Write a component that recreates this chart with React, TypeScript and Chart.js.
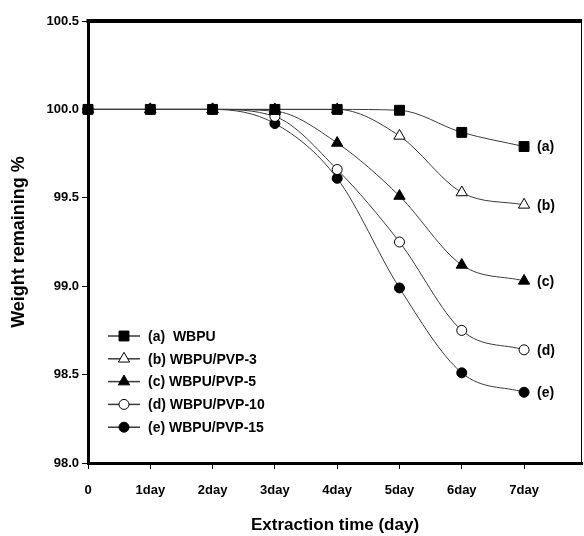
import React, { useEffect, useRef } from "react";
import { Chart, registerables } from "chart.js";
import { drawPoint } from "chart.js/helpers";

Chart.register(...registerables);

const days = [0, 1, 2, 3, 4, 5, 6, 7];
const xTickLabels = ["0", "1day", "2day", "3day", "4day", "5day", "6day", "7day"];
const yTicks = [98.0, 98.5, 99.0, 99.5, 100.0, 100.5];

const seriesNames = ["(a)  WBPU", "(b) WBPU/PVP-3", "(c) WBPU/PVP-5", "(d) WBPU/PVP-10", "(e) WBPU/PVP-15"];
const endLabels = ["(a)", "(b)", "(c)", "(d)", "(e)"];

const wbpu = [100.0, 100.0, 100.0, 100.0, 100.0, 99.995, 99.87, 99.79];
const pvp3 = [100.0, 100.0, 100.0, 100.0, 100.0, 99.85, 99.53, 99.46];
const pvp5 = [100.0, 100.0, 100.0, 99.99, 99.81, 99.51, 99.12, 99.03];
const pvp10 = [100.0, 100.0, 100.0, 99.96, 99.66, 99.25, 98.75, 98.64];
const pvp15 = [100.0, 100.0, 100.0, 99.92, 99.61, 98.99, 98.51, 98.4];

const seriesValues = [wbpu, pvp3, pvp5, pvp10, pvp15];
const pointStyles = ["rect", "triangle", "triangle", "circle", "circle"];
const pointFills = ["#000", "#fff", "#000", "#fff", "#000"];
const pointSizes = [7, 6.5, 6.5, 5, 5];

const FONT = "'Liberation Sans', Arial, sans-serif";
const LINE_COLOR = "#3a3a3a";

const framePlugin = {
  id: "frame",
  afterDatasetsDraw(chart: any) {
    const { ctx, chartArea } = chart;
    const { left, right, top, bottom } = chartArea;
    ctx.save();
    ctx.strokeStyle = "#000";
    ctx.lineWidth = 4;
    ctx.beginPath();
    ctx.moveTo(left - 1.5, top);
    ctx.lineTo(right, top);
    ctx.stroke();
    ctx.lineWidth = 1;
    ctx.beginPath();
    ctx.moveTo(right - 0.5, top);
    ctx.lineTo(right - 0.5, bottom);
    ctx.stroke();
    ctx.restore();
  },
};

const labelsPlugin = {
  id: "endLabels",
  afterDatasetsDraw(chart: any) {
    const { ctx } = chart;
    ctx.save();
    ctx.font = `bold 14px ${FONT}`;
    ctx.fillStyle = "#000";
    ctx.textBaseline = "middle";
    ctx.textAlign = "left";
    chart.data.datasets.forEach((ds: any, i: number) => {
      const meta = chart.getDatasetMeta(i);
      const pt = meta.data[meta.data.length - 1];
      if (pt) ctx.fillText(endLabels[i], pt.x + 13, pt.y + 1);
    });
    ctx.restore();
  },
};

const legendPlugin = {
  id: "customLegend",
  afterDraw(chart: any) {
    const { ctx } = chart;
    const x0 = 108;
    const x1 = 140;
    const textX = 148;
    const y0 = 336;
    const dy = 22.8;
    ctx.save();
    chart.data.datasets.forEach((ds: any, i: number) => {
      const y = y0 + i * dy;
      ctx.strokeStyle = LINE_COLOR;
      ctx.lineWidth = 1.5;
      ctx.beginPath();
      ctx.moveTo(x0, y);
      ctx.lineTo(x1, y);
      ctx.stroke();
      ctx.fillStyle = pointFills[i];
      ctx.strokeStyle = "#000";
      ctx.lineWidth = 1;
      drawPoint(ctx, { pointStyle: pointStyles[i], radius: pointSizes[i], rotation: 0, borderWidth: 1 } as any, (x0 + x1) / 2, y);
      ctx.fillStyle = "#000";
      ctx.font = `bold 14px ${FONT}`;
      ctx.textBaseline = "middle";
      ctx.textAlign = "left";
      ctx.fillText(seriesNames[i], textX, y + 1);
    });
    ctx.restore();
  },
};

export default function App() {
  const ref = useRef<HTMLCanvasElement | null>(null);

  useEffect(() => {
    if (!ref.current) return;
    const datasets = seriesValues.map((vals, i) => ({
      label: seriesNames[i],
      data: days.map((d, j) => ({ x: d, y: vals[j] })),
      borderColor: LINE_COLOR,
      borderWidth: 1,
      backgroundColor: pointFills[i],
      pointBackgroundColor: pointFills[i],
      pointBorderColor: "#000",
      pointBorderWidth: 1,
      pointStyle: pointStyles[i],
      pointRadius: pointSizes[i],
      cubicInterpolationMode: "monotone" as const,
      fill: false,
      clip: 10,
    }));

    const chart = new Chart(ref.current, {
      type: "line",
      data: { datasets },
      plugins: [framePlugin, labelsPlugin, legendPlugin],
      options: {
        animation: false,
        responsive: false,
        maintainAspectRatio: false,
        layout: { autoPadding: false, padding: { top: 21, right: 2, left: 0, bottom: 0 } },
        plugins: {
          legend: { display: false },
          tooltip: { enabled: false },
        },
        scales: {
          x: {
            type: "linear",
            min: 0,
            max: 7.93,
            afterFit: (scale: any) => {
              scale.height = 73;
              scale.paddingRight = 0;
              scale.paddingLeft = 0;
            },
            ticks: {
              stepSize: 1,
              includeBounds: false,
              autoSkip: false,
              maxRotation: 0,
              padding: 14,
              color: "#000",
              font: { family: FONT, size: 13, weight: "bold" },
              callback: (v: any) => (Number.isInteger(v) ? xTickLabels[v] : ""),
            },
            grid: {
              drawOnChartArea: false,
              drawTicks: true,
              tickLength: 6,
              color: "#000",
              lineWidth: 1,
            },
            border: { display: true, color: "#000", width: 3 },
            title: {
              display: true,
              text: "Extraction time (day)",
              color: "#000",
              font: { family: FONT, size: 17, weight: "bold" },
              padding: { top: 0, bottom: 0 },
            },
          },
          y: {
            type: "linear",
            min: yTicks[0],
            max: yTicks[yTicks.length - 1],
            afterFit: (scale: any) => {
              scale.width = 88;
              scale.paddingTop = 0;
              scale.paddingBottom = 0;
            },
            afterBuildTicks: (scale: any) => {
              scale.ticks = yTicks.map((v) => ({ value: v }));
            },
            ticks: {
              padding: 3,
              color: "#000",
              font: { family: FONT, size: 13, weight: "bold" },
              callback: (v: any) => Number(v).toFixed(1),
            },
            grid: {
              drawOnChartArea: false,
              drawTicks: true,
              tickLength: 6,
              color: "#000",
              lineWidth: 1,
            },
            border: { display: true, color: "#000", width: 3 },
            title: {
              display: true,
              text: "Weight remaining %",
              color: "#000",
              font: { family: FONT, size: 18, weight: "bold" },
              padding: { top: 8, bottom: 0 },
            },
          },
        },
      },
    });
    return () => chart.destroy();
  }, []);

  return (
    <div style={{ position: "absolute", left: 0, top: 0, width: 584, height: 536, background: "#fff" }}>
      <canvas ref={ref} width={584} height={536} style={{ display: "block", width: 584, height: 536 }} />
    </div>
  );
}
